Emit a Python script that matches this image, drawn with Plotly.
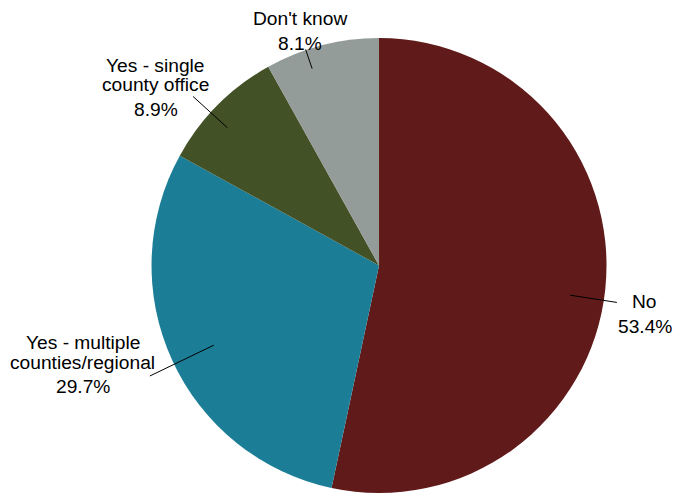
import math
import plotly.graph_objects as go

# Survey responses
names = ["No", "Yes - multiple counties/regional", "Yes - single county office", "Don't know"]
name_lines = [["No"], ["Yes - multiple", "counties/regional"], ["Yes - single", "county office"], ["Don't know"]]
values = [53.4, 29.7, 8.9, 8.1]
colors = ["#611A1A", "#1C7D96", "#435226", "#949C9A"]

# Leader-line style per slice: inner radius factor, outer radius factor, angle nudge (deg)
leader_style = [(0.85, 1.058, 2.8), (0.806, 1.118, -1.2), (0.90, 1.105, -2.6), (0.914, 1.003, -4.2)]
# Label block offset from the leader's outer end: (dx to block centre, dy to first baseline) in px
label_offset = [(28, 6), (-67, -26.7), (-37, -24.7), (-6, -24)]

W, H = 674, 493
FONT = "Liberation Sans, Arial, sans-serif"
FS = 19.2
NAME_PITCH = 19.5
VALUE_GAP = 24.5

dom_x = [0.2248, 0.8999]
dom_y = [0.0, 0.9229]

fig = go.Figure(go.Pie(
    labels=names,
    values=values,
    sort=False,
    direction="clockwise",
    rotation=0,
    marker=dict(colors=colors, line=dict(width=0)),
    textinfo="none",
    hoverinfo="label+percent",
    domain=dict(x=dom_x, y=dom_y),
    showlegend=False,
))

cx = (dom_x[0] + dom_x[1]) / 2 * W
cy = H - (dom_y[0] + dom_y[1]) / 2 * H
R = min((dom_x[1] - dom_x[0]) * W, (dom_y[1] - dom_y[0]) * H) / 2

total = sum(values)
cum = 0.0
shapes, annotations = [], []
for i, v in enumerate(values):
    mid = (cum + v / 2) / total * 360
    cum += v
    r_in, r_out, nudge = leader_style[i]
    th = math.radians(mid + nudge)
    x_in, y_in = cx + r_in * R * math.sin(th), cy - r_in * R * math.cos(th)
    x_out, y_out = cx + r_out * R * math.sin(th), cy - r_out * R * math.cos(th)
    shapes.append(dict(type="line", xref="paper", yref="paper",
                       x0=x_in / W, y0=1 - y_in / H, x1=x_out / W, y1=1 - y_out / H,
                       line=dict(color="#000000", width=1)))
    dx, dy = label_offset[i]
    bx = x_out + dx
    base = y_out + dy
    lines = name_lines[i] + [f"{v:.1f}%"]
    for j, t in enumerate(lines):
        if j < len(name_lines[i]):
            b = base + j * NAME_PITCH
        else:
            b = base + (len(name_lines[i]) - 1) * NAME_PITCH + VALUE_GAP
        annotations.append(dict(text=t, xref="paper", yref="paper",
                                x=bx / W, y=1 - (b - 0.35 * FS) / H,
                                xanchor="center", yanchor="middle", showarrow=False,
                                font=dict(family=FONT, size=FS, color="#000000")))

fig.update_layout(
    width=W, height=H,
    margin=dict(l=0, r=0, t=0, b=0),
    paper_bgcolor="#FFFFFF",
    plot_bgcolor="#FFFFFF",
    shapes=shapes,
    annotations=annotations,
)

fig.write_html("out.html")
